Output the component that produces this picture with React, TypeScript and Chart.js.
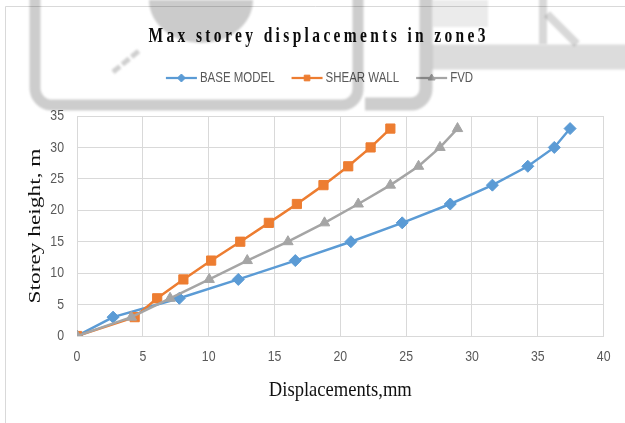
import React, { useEffect, useRef } from "react";
import { Chart, registerables } from "chart.js";
import { drawPoint } from "chart.js/helpers";

Chart.register(...registerables);

// Storey levels (m) and the peak displacement (mm) reached at each level
const storeyHeights = [0, 3, 6, 9, 12, 15, 18, 21, 24, 27, 30, 33];
const baseModel = [0, 2.74, 7.77, 12.25, 16.58, 20.8, 24.7, 28.35, 31.55, 34.24, 36.25, 37.45];
const shearWall = [0, 4.38, 6.09, 8.08, 10.19, 12.4, 14.57, 16.7, 18.72, 20.6, 22.3, 23.8];
const fvd = [0, 4.13, 7.07, 10.04, 12.93, 16.02, 18.8, 21.36, 23.8, 25.94, 27.57, 28.9];

const seriesNames = ["BASE MODEL", "SHEAR WALL", "FVD"];
const seriesColors = ["#5b9bd5", "#ed7d31", "#a5a5a5"];
const seriesMarkers = ["rectRot", "rect", "triangle"];

const chartTitle = "Max storey displacements in zone3";
const xAxisTitle = "Displacements,mm";
const yAxisTitle = "Storey height, m";

const xMin = 0;
const xMax = 40;
const xStep = 5;
const yMin = 0;
const yMax = 35;
const yStep = 5;

const SERIF = '"Liberation Serif", "Times New Roman", serif';
const SANS = '"Liberation Sans", Arial, sans-serif';
const NARROW = 0.82; // horizontal squeeze for the narrow sans labels

function toPoints(xs: number[]) {
  return xs.map((x, i) => ({ x, y: storeyHeights[i] }));
}

// Letter-spaced, horizontally condensed heading
function drawSpaced(ctx: CanvasRenderingContext2D, text: string, font: string, cx: number, baseline: number, targetW: number, k: number) {
  ctx.save();
  ctx.font = font;
  const chars = Array.from(text);
  const widths = chars.map((c) => ctx.measureText(c).width);
  const natural = widths.reduce((a, b) => a + b, 0);
  const gap = (targetW / k - natural) / (chars.length - 1);
  ctx.translate(cx - targetW / 2, baseline);
  ctx.scale(k, 1);
  ctx.textAlign = "left";
  ctx.textBaseline = "alphabetic";
  let x = 0;
  chars.forEach((c, i) => {
    ctx.fillText(c, x, 0);
    x += widths[i] + gap;
  });
  ctx.restore();
}

function drawFitted(ctx: CanvasRenderingContext2D, text: string, font: string, cx: number, baseline: number, targetW: number) {
  ctx.save();
  ctx.font = font;
  const w = ctx.measureText(text).width;
  ctx.translate(cx, baseline);
  ctx.scale(targetW / w, 1);
  ctx.textAlign = "center";
  ctx.textBaseline = "alphabetic";
  ctx.fillText(text, 0, 0);
  ctx.restore();
}

function drawNarrow(ctx: CanvasRenderingContext2D, text: string, x: number, y: number, align: CanvasTextAlign) {
  ctx.save();
  ctx.translate(x, y);
  ctx.scale(NARROW, 1);
  ctx.textAlign = align;
  ctx.textBaseline = "middle";
  ctx.fillText(text, 0, 0);
  ctx.restore();
}

const decorPlugin = {
  id: "decor",
  beforeDraw(chart: any) {
    const { ctx, width, height } = chart;
    ctx.save();
    ctx.fillStyle = "#ffffff";
    ctx.fillRect(0, 0, width, height);
    ctx.strokeStyle = "#d9d9d9";
    ctx.lineWidth = 1;
    ctx.beginPath();
    ctx.moveTo(5.5, height);
    ctx.lineTo(5.5, 6.5);
    ctx.lineTo(width, 6.5);
    ctx.stroke();
    ctx.restore();
  },
  afterDraw(chart: any) {
    const { ctx, chartArea, scales } = chart;
    const plotCx = (chartArea.left + chartArea.right) / 2;
    const plotCy = (chartArea.top + chartArea.bottom) / 2;

    // Tick labels in a condensed face, placed through the scales
    ctx.save();
    ctx.font = `15px ${SANS}`;
    ctx.fillStyle = "#595959";
    scales.x.ticks.forEach((t: any) => {
      drawNarrow(ctx, String(t.value), scales.x.getPixelForValue(t.value), chartArea.bottom + 21, "center");
    });
    scales.y.ticks.forEach((t: any) => {
      drawNarrow(ctx, String(t.value), chartArea.left - 13, scales.y.getPixelForValue(t.value), "right");
    });
    ctx.restore();

    // Chart title
    ctx.fillStyle = "#0d0d0d";
    drawSpaced(ctx, chartTitle, `bold 21.5px ${SERIF}`, 317, 42, 337, 0.72);

    // Axis titles
    ctx.fillStyle = "#111111";
    drawFitted(ctx, xAxisTitle, `22px ${SERIF}`, plotCx, 396, 143);
    ctx.save();
    ctx.font = `21.5px ${SERIF}`;
    const yw = ctx.measureText(yAxisTitle).width;
    ctx.translate(39.5, plotCy);
    ctx.rotate(-Math.PI / 2);
    ctx.scale(155 / yw, 0.8);
    ctx.textAlign = "center";
    ctx.textBaseline = "alphabetic";
    ctx.fillText(yAxisTitle, 0, 0);
    ctx.restore();

    // Legend: line with marker, then label
    const lineLen = 31;
    const textGap = 3;
    const itemGap = 17;
    const legendY = 78;
    ctx.save();
    ctx.font = `14px ${SANS}`;
    const textW = seriesNames.map((n) => ctx.measureText(n).width * NARROW);
    const total = textW.reduce((a, w) => a + lineLen + textGap + w, 0) + itemGap * (seriesNames.length - 1);
    let x = 319.5 - total / 2;
    seriesNames.forEach((name, i) => {
      ctx.strokeStyle = seriesColors[i];
      ctx.fillStyle = seriesColors[i];
      ctx.lineWidth = 2.25;
      ctx.beginPath();
      ctx.moveTo(x, legendY);
      ctx.lineTo(x + lineLen, legendY);
      ctx.stroke();
      ctx.lineWidth = 1;
      drawPoint(ctx, { pointStyle: seriesMarkers[i], radius: 4, rotation: 0, borderWidth: 1 } as any, x + lineLen / 2, legendY);
      const tx = x + lineLen + textGap;
      ctx.fillStyle = "#595959";
      drawNarrow(ctx, name, tx, legendY, "left");
      x = tx + textW[i] + itemGap;
    });
    ctx.restore();

    // Faint grey overlay marks across the top of the page
    ctx.save();
    ctx.globalCompositeOperation = "multiply";
    ctx.filter = "blur(1.2px)";
    ctx.lineCap = "butt";
    ctx.lineJoin = "round";

    ctx.fillStyle = "#cbcbcb";
    ctx.beginPath();
    ctx.ellipse(201, 0, 52, 43, 0, 0, Math.PI);
    ctx.fill();

    ctx.strokeStyle = "#cdcdcd";
    ctx.lineWidth = 11;
    ctx.beginPath();
    ctx.moveTo(35, -5);
    ctx.lineTo(35, 88);
    ctx.arcTo(35, 105, 52, 105, 17);
    ctx.lineTo(342, 105);
    ctx.arcTo(358, 105, 358, 90, 16);
    ctx.lineTo(358, -5);
    ctx.stroke();

    ctx.lineWidth = 13;
    ctx.beginPath();
    ctx.moveTo(426, -5);
    ctx.lineTo(426, 88);
    ctx.arcTo(426, 104, 410, 104, 15);
    ctx.lineTo(365, 104);
    ctx.stroke();

    ctx.strokeStyle = "#cfcfcf";
    ctx.lineWidth = 5;
    ctx.setLineDash([9, 3]);
    ctx.beginPath();
    ctx.moveTo(113, 72);
    ctx.lineTo(140, 50);
    ctx.stroke();
    ctx.setLineDash([]);

    ctx.fillStyle = "#ebebeb";
    ctx.fillRect(433, 0, 55, 27);

    ctx.strokeStyle = "#d8d8d8";
    ctx.lineWidth = 8;
    ctx.beginPath();
    ctx.moveTo(543, -5);
    ctx.lineTo(543, 44);
    ctx.stroke();
    ctx.beginPath();
    ctx.moveTo(547, 14);
    ctx.lineTo(577, 44);
    ctx.stroke();

    ctx.strokeStyle = "#dcdcdc";
    ctx.lineWidth = 25;
    ctx.beginPath();
    ctx.moveTo(432, 57);
    ctx.lineTo(630, 57);
    ctx.stroke();
    ctx.restore();
  },
};

export default function App() {
  const canvasRef = useRef<HTMLCanvasElement | null>(null);

  useEffect(() => {
    const canvas = canvasRef.current;
    if (!canvas) return;
    const seriesValues = [baseModel, shearWall, fvd];
    const chart = new Chart(canvas, {
      type: "line",
      data: {
        datasets: seriesNames.map((name, i) => ({
          label: name,
          data: toPoints(seriesValues[i]),
          borderColor: seriesColors[i],
          backgroundColor: seriesColors[i],
          borderWidth: 2.5,
          pointStyle: seriesMarkers[i] as any,
          pointRadius: i === 0 ? 6 : i === 1 ? 6.5 : 6,
          pointBorderWidth: 1,
          pointBorderColor: seriesColors[i],
          pointBackgroundColor: seriesColors[i],
          tension: 0,
          order: 2 - i,
        })),
      },
      options: {
        responsive: false,
        animation: false,
        devicePixelRatio: 1,
        layout: { padding: { left: 0, top: 116, right: 18, bottom: 0 } },
        plugins: {
          legend: { display: false },
          title: { display: false },
          tooltip: { enabled: false },
        },
        scales: {
          x: {
            type: "linear",
            min: xMin,
            max: xMax,
            ticks: { stepSize: xStep, color: "rgba(0,0,0,0)", padding: 13, font: { size: 15 } },
            grid: { color: "#d9d9d9", lineWidth: 1, drawTicks: false },
            border: { color: "#d9d9d9" },
            afterFit: (scale: any) => {
              scale.height = 87;
            },
          },
          y: {
            type: "linear",
            min: yMin,
            max: yMax,
            ticks: { stepSize: yStep, color: "rgba(0,0,0,0)", padding: 13, font: { size: 15 } },
            grid: { color: "#d9d9d9", lineWidth: 1, drawTicks: false },
            border: { color: "#d9d9d9" },
            afterFit: (scale: any) => {
              scale.width = 77;
            },
          },
        },
      },
      plugins: [decorPlugin],
    });
    return () => chart.destroy();
  }, []);

  return (
    <div style={{ position: "fixed", left: 0, top: 0, width: 625, height: 423, background: "#fff" }}>
      <canvas ref={canvasRef} width={625} height={423} style={{ display: "block", width: 625, height: 423 }} />
    </div>
  );
}
